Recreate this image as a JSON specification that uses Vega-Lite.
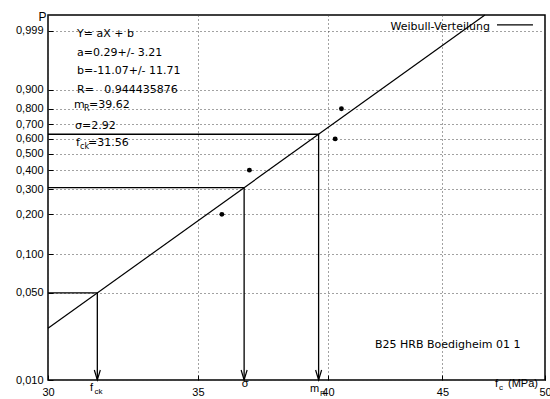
{
  "$schema": "https://vega.github.io/schema/vega-lite/v6.json",
  "width": 497,
  "height": 365,
  "autosize": {"type": "none"},
  "padding": {"left": 48, "top": 15, "right": 5, "bottom": 19},
  "background": "white",
  "config": {
    "view": {"stroke": "black", "strokeWidth": 1.5},
    "font": "DejaVu Sans",
    "axis": {
      "labelFont": "Liberation Sans",
      "labelFontSize": 11,
      "labelColor": "black",
      "labelOverlap": false,
      "gridColor": "#444",
      "gridDash": [1, 3],
      "gridWidth": 1,
      "domain": false,
      "ticks": true,
      "tickColor": "black",
      "tickSize": -5,
      "tickWidth": 1
    }
  },
  "datasets": {
    "fit": [
      {"x": 30, "Y": -3.6328},
      {"x": 47.005, "Y": 2.232}
    ],
    "guides": [
      {"c": "fck", "k": 1, "x": 30, "Y": -2.9702},
      {"c": "fck", "k": 2, "x": 31.56, "Y": -2.9702},
      {"c": "fck", "k": 3, "x": 31.56, "Y": -4.60015},
      {"c": "sigma", "k": 1, "x": 30, "Y": -1.0},
      {"c": "sigma", "k": 2, "x": 36.70, "Y": -1.0},
      {"c": "sigma", "k": 3, "x": 36.70, "Y": -4.60015},
      {"c": "mR", "k": 1, "x": 30, "Y": 0.0},
      {"c": "mR", "k": 2, "x": 39.62, "Y": 0.0},
      {"c": "mR", "k": 3, "x": 39.62, "Y": -4.60015}
    ],
    "arrows": [
      {"x": 31.56, "Y": -4.60015},
      {"x": 36.70, "Y": -4.60015},
      {"x": 39.62, "Y": -4.60015}
    ],
    "points": [
      {"x": 35.87, "P": 0.2, "Y": -1.49994},
      {"x": 36.90, "P": 0.4, "Y": -0.67173},
      {"x": 40.30, "P": 0.6, "Y": -0.08742},
      {"x": 40.56, "P": 0.8, "Y": 0.47588}
    ],
    "notes": [
      {"x": 30.908, "Y": 1.82067, "t": "Y= aX + b"},
      {"x": 30.908, "Y": 1.46874, "t": "a=0.29+/- 3.21"},
      {"x": 30.908, "Y": 1.12243, "t": "b=-11.07+/- 11.71"},
      {"x": 30.908, "Y": 0.77237, "t": "R=\u00a0\u00a0\u00a00.944435876"},
      {"x": 30.812, "Y": 0.49158, "t": "m"},
      {"x": 31.291, "Y": 0.49158, "t": "=39.62"},
      {"x": 30.844, "Y": 0.09846, "t": "σ=2.92"},
      {"x": 30.876, "Y": -0.21977, "t": "f"},
      {"x": 31.259, "Y": -0.21977, "t": "=31.56"},
      {"x": 41.982, "Y": -4.00112, "t": "B25 HRB Boedigheim 01 1"}
    ],
    "noteSubs": [
      {"x": 31.131, "Y": 0.43542, "t": "R"},
      {"x": 31.003, "Y": -0.27593, "t": "ck"}
    ],
    "legendText": [
      {"x": 47.25, "Y": 1.94234, "t": "Weibull-Verteilung"}
    ],
    "legendLine": [
      {"x": 47.592, "x2": 49.385, "Y": 2.0453}
    ],
    "axisNotes": [
      {"x": 31.323, "Y": -4.80606, "t": "f"},
      {"x": 36.612, "Y": -4.73119, "t": "σ"},
      {"x": 39.270, "Y": -4.82479, "t": "m"},
      {"x": 47.494, "Y": -4.73119, "t": "f"},
      {"x": 48.133, "Y": -4.73119, "t": "(MPa)"}
    ],
    "axisSubs": [
      {"x": 31.469, "Y": -4.86223, "t": "ck"},
      {"x": 39.676, "Y": -4.89966, "t": "R"},
      {"x": 47.690, "Y": -4.78735, "t": "c"}
    ]
  },
  "layer": [
    {
      "data": {"name": "fit"},
      "mark": {"type": "line", "color": "black", "strokeWidth": 1.2},
      "encoding": {
        "x": {
          "field": "x", "type": "quantitative",
          "scale": {"type": "log", "domain": [30, 50], "nice": false},
          "axis": {"values": [30, 35, 40, 45, 50], "tickCount": 20, "title": null, "labelPadding": 11, "labelFlush": false}
        },
        "y": {
          "field": "Y", "type": "quantitative",
          "scale": {"domain": [-4.60015, 2.232], "nice": false, "zero": false},
          "axis": {
            "values": [-4.60015, -2.9702, -2.25037, -1.49994, -1.03093, -0.67173, -0.36651, -0.08742, 0.18563, 0.47588, 0.83403, 1.93264],
            "tickCount": 40,
            "labelExpr": "replace(format(1 - exp(-exp(datum.value)), '.3f'), '.', ',')",
            "labelPadding": 10,
            "labelFlush": false,
            "title": "P",
            "titleAngle": 0,
            "titleAlign": "right",
            "titleBaseline": "alphabetic",
            "titleX": -2,
            "titleY": 5,
            "titleFont": "Liberation Sans",
            "titleFontSize": 12,
            "titleFontWeight": "normal",
            "titleColor": "black"
          }
        }
      }
    },
    {
      "data": {"name": "guides"},
      "mark": {"type": "line", "color": "black", "strokeWidth": 1.3},
      "encoding": {
        "x": {"field": "x", "type": "quantitative"},
        "y": {"field": "Y", "type": "quantitative"},
        "detail": {"field": "c"},
        "order": {"field": "k"}
      }
    },
    {
      "data": {"name": "arrows"},
      "mark": {"type": "point", "shape": "M-0.6,-2L0,0L0.6,-2", "size": 100, "filled": false, "stroke": "black", "strokeWidth": 1.2, "opacity": 1},
      "encoding": {
        "x": {"field": "x", "type": "quantitative"},
        "y": {"field": "Y", "type": "quantitative"}
      }
    },
    {
      "data": {"name": "points"},
      "mark": {"type": "point", "shape": "circle", "filled": true, "color": "black", "size": 24, "opacity": 1},
      "encoding": {
        "x": {"field": "x", "type": "quantitative"},
        "y": {"field": "Y", "type": "quantitative"}
      }
    },
    {
      "data": {"name": "legendLine"},
      "mark": {"type": "rule", "color": "black", "strokeWidth": 1.2},
      "encoding": {
        "x": {"field": "x", "type": "quantitative"},
        "x2": {"field": "x2"},
        "y": {"field": "Y", "type": "quantitative"}
      }
    },
    {
      "data": {"name": "notes"},
      "mark": {"type": "text", "font": "DejaVu Sans", "fontSize": 11, "align": "left", "baseline": "alphabetic", "color": "black"},
      "encoding": {
        "x": {"field": "x", "type": "quantitative"},
        "y": {"field": "Y", "type": "quantitative"},
        "text": {"field": "t"}
      }
    },
    {
      "data": {"name": "noteSubs"},
      "mark": {"type": "text", "font": "DejaVu Sans", "fontSize": 8, "align": "left", "baseline": "alphabetic", "color": "black"},
      "encoding": {
        "x": {"field": "x", "type": "quantitative"},
        "y": {"field": "Y", "type": "quantitative"},
        "text": {"field": "t"}
      }
    },
    {
      "data": {"name": "legendText"},
      "mark": {"type": "text", "font": "DejaVu Sans", "fontSize": 11, "align": "right", "baseline": "alphabetic", "color": "black"},
      "encoding": {
        "x": {"field": "x", "type": "quantitative"},
        "y": {"field": "Y", "type": "quantitative"},
        "text": {"field": "t"}
      }
    },
    {
      "data": {"name": "axisNotes"},
      "mark": {"type": "text", "font": "Liberation Sans", "fontSize": 11, "align": "left", "baseline": "alphabetic", "color": "black"},
      "encoding": {
        "x": {"field": "x", "type": "quantitative"},
        "y": {"field": "Y", "type": "quantitative"},
        "text": {"field": "t"}
      }
    },
    {
      "data": {"name": "axisSubs"},
      "mark": {"type": "text", "font": "Liberation Sans", "fontSize": 8, "align": "left", "baseline": "alphabetic", "color": "black"},
      "encoding": {
        "x": {"field": "x", "type": "quantitative"},
        "y": {"field": "Y", "type": "quantitative"},
        "text": {"field": "t"}
      }
    }
  ]
}
